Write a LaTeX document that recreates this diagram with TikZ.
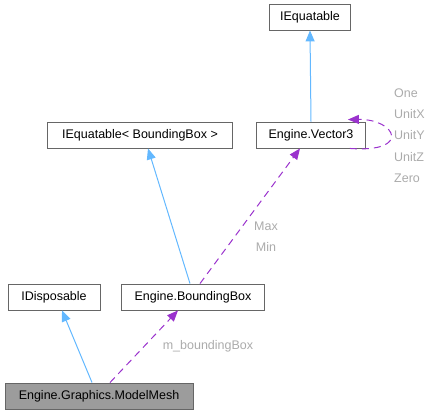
\documentclass[tikz,border=0pt]{standalone}
\usepackage{fontspec}
\setmainfont{Liberation Sans}
\usetikzlibrary{arrows.meta}
\definecolor{inhblue}{HTML}{63B8FF}
\definecolor{usepurple}{HTML}{9A32CD}
\definecolor{boxline}{HTML}{666666}
\definecolor{lblgray}{HTML}{ABABAB}
\begin{document}
\begin{tikzpicture}[x=1pt,y=-1pt,
  cls/.style={draw=boxline,fill=white,line width=0.9pt,minimum height=26pt,inner sep=0pt,font=\fontsize{12.5}{14}\selectfont},
  inh/.style={draw=inhblue,line width=1pt,-{Triangle[length=11pt,width=9pt]}},
  use/.style={draw=usepurple,line width=1pt,dash pattern=on 7pt off 5pt,-{Triangle[length=11pt,width=9pt]}},
  lbl/.style={text=lblgray,font=\fontsize{12.5}{14}\selectfont,inner sep=0pt}]
\useasboundingbox (0,0) rectangle (437,415);
% classes
\node[cls,minimum width=81pt] (ieq) at (310,17) {IEquatable};
\node[cls,minimum width=185pt] (ieqbb) at (140,135) {IEquatable< BoundingBox >};
\node[cls,minimum width=109pt] (vec) at (311,135) {Engine.Vector3};
\node[cls,minimum width=92pt] (idisp) at (54,297) {IDisposable};
\node[cls,minimum width=143pt] (bb) at (193,297) {Engine.BoundingBox};
\node[cls,minimum width=188pt,fill=boxline!65] (mesh) at (99,396) {Engine.Graphics.ModelMesh};
% inheritance
\draw[inh] (vec.north) -- (ieq.south);
\draw[inh] ([xshift=-3pt]bb.north) -- ([xshift=8pt]ieqbb.south);
\draw[inh] ([xshift=-7pt]mesh.north) -- ([xshift=8pt]idisp.south);
% members
\draw[use] ([xshift=7pt]bb.north) -- ([xshift=-11pt]vec.south);
\draw[use] ([xshift=11pt]mesh.north) -- ([xshift=-15pt]bb.south);
\draw[use] ([xshift=-16pt]vec.south east) .. controls (412,153) and (396,119) .. ([xshift=-18pt,yshift=2pt]vec.north east);
% labels
\node[lbl] (lmax) at (266,226) {Max};
\node[lbl] (lmin) at (266,247) {Min};
\node[lbl] (lbbox) at (208,346) {m\_boundingBox};
\node[lbl,anchor=west] (lone) at (394,93) {One};
\node[lbl,anchor=west] (lux) at (394,114) {UnitX};
\node[lbl,anchor=west] (luy) at (394,135) {UnitY};
\node[lbl,anchor=west] (luz) at (394,157) {UnitZ};
\node[lbl,anchor=west] (lzero) at (394,178) {Zero};
\end{tikzpicture}
\end{document}
